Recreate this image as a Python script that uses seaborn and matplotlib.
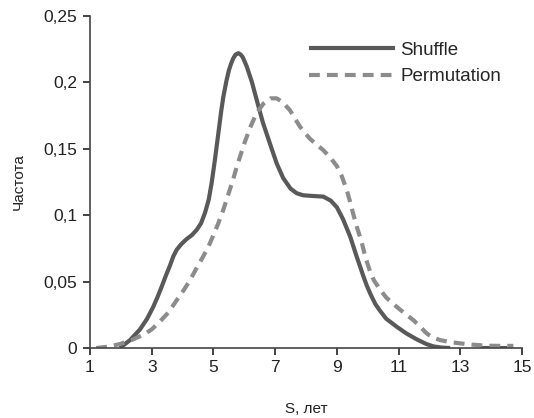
import numpy as np
import pandas as pd
import seaborn as sns
import matplotlib.pyplot as plt

# Values
shuffle_x = [1.97, 2.3, 2.62, 2.85, 3.05, 3.2, 3.32, 3.45, 3.59, 3.7, 3.81, 3.95, 4.13, 4.3, 4.46,
             4.6, 4.73, 4.85, 4.94, 5.05, 5.15, 5.25, 5.32, 5.42, 5.5, 5.57, 5.64, 5.72, 5.81,
             5.88, 5.95, 6.08, 6.25, 6.4, 6.6, 6.83, 7.05, 7.26, 7.5, 7.7, 7.91, 8.2, 8.56,
             8.8, 9.0, 9.2, 9.43, 9.64, 9.86, 9.97, 10.1, 10.25, 10.4, 10.6, 10.94, 11.25,
             11.59, 11.9, 12.13, 12.4, 12.67, 13.1, 13.64, 14.5]
shuffle_y = [0.0, 0.006, 0.014, 0.022, 0.031, 0.039, 0.046, 0.054, 0.062, 0.069, 0.074, 0.078,
             0.082, 0.085, 0.089, 0.094, 0.102, 0.112, 0.124, 0.142, 0.160, 0.178, 0.189,
             0.201, 0.209, 0.214, 0.218, 0.221, 0.222, 0.221, 0.219, 0.212, 0.200, 0.187,
             0.170, 0.154, 0.139, 0.128, 0.120, 0.1165, 0.115, 0.1145, 0.114, 0.111, 0.106,
             0.097, 0.084, 0.069, 0.054, 0.047, 0.040, 0.033, 0.028, 0.022, 0.016, 0.011,
             0.0065, 0.003, 0.0012, 0.0003, 0.0, np.nan, 0.0, 0.0]

perm_x = [1.2, 1.6, 1.97, 2.35, 2.73, 3.0, 3.27, 3.55, 3.81, 4.05, 4.24, 4.45, 4.67, 4.85, 5.0,
          5.16, 5.32, 5.5, 5.64, 5.75, 6.0, 6.19, 6.4, 6.62, 6.85, 7.05, 7.25, 7.48, 7.65, 7.81,
          8.0, 8.13, 8.35, 8.56, 8.8, 9.0, 9.15, 9.32, 9.43, 9.53, 9.65, 9.8, 9.93, 10.07,
          10.2, 10.4, 10.6, 10.94, 11.2, 11.48, 11.7, 11.91, 12.1, 12.34, 12.65, 12.99, 13.4,
          13.86, 14.3, 14.72]
perm_y = [0.0, 0.001, 0.003, 0.006, 0.010, 0.014, 0.020, 0.027, 0.036, 0.044, 0.051, 0.060,
          0.069, 0.077, 0.085, 0.094, 0.104, 0.117, 0.127, 0.136, 0.154, 0.166, 0.177, 0.184,
          0.188, 0.188, 0.185, 0.179, 0.1725, 0.1665, 0.161, 0.1575, 0.153, 0.149, 0.143,
          0.137, 0.130, 0.119, 0.110, 0.101, 0.091, 0.080, 0.068, 0.058, 0.051, 0.044, 0.038,
          0.031, 0.026, 0.021, 0.016, 0.011, 0.008, 0.006, 0.0045, 0.0035, 0.0025, 0.0017,
          0.0016, 0.0016]

x_ticks = [1, 3, 5, 7, 9, 11, 13, 15]
y_ticks = [0, 0.05, 0.1, 0.15, 0.2, 0.25]
y_tick_labels = ["0", "0,05", "0,1", "0,15", "0,2", "0,25"]

sns.set_style("ticks")
plt.rcParams['font.family'] = ['Liberation Sans', 'DejaVu Sans']

fig = plt.figure(figsize=(5.34, 4.18), dpi=100)
ax = fig.add_axes([90 / 534, 1 - 348 / 418, 432 / 534, 332 / 418])

shuffle = pd.DataFrame({'x': shuffle_x, 'y': shuffle_y})
perm = pd.DataFrame({'x': perm_x, 'y': perm_y})

# split Shuffle at the gap so the two pieces are drawn separately
gap = shuffle['y'].isna().idxmax()
sns.lineplot(data=shuffle.iloc[:gap], x='x', y='y', ax=ax, color='#595959', lw=3,
             label='Shuffle', sort=False, solid_capstyle='butt', solid_joinstyle='round')
sns.lineplot(data=shuffle.iloc[gap + 1:], x='x', y='y', ax=ax, color='#595959', lw=3,
             sort=False, solid_capstyle='butt')
sns.lineplot(data=perm, x='x', y='y', ax=ax, color='#8c8c8c', lw=3, label='Permutation',
             sort=False, dashes=False)
ax.lines[-1].set_dashes((2.6, 1.7))

ax.set_xlim(1, 15)
ax.set_ylim(0, 0.25)
ax.set_xticks(x_ticks)
ax.set_yticks(y_ticks)
ax.set_yticklabels(y_tick_labels)
ax.tick_params(labelsize=12.5, colors='#222222', length=5, width=1.2, pad=4)
for s in ['left', 'bottom']:
    ax.spines[s].set_color('#444444')
    ax.spines[s].set_linewidth(1.2)
sns.despine(ax=ax)

ax.set_xlabel('S, лет', fontsize=11, color='#222222', labelpad=19)
ax.set_ylabel('Частота', fontsize=11, color='#222222', labelpad=13)

ax.legend(loc='upper left', bbox_to_anchor=(301 / 534, 1 - 34 / 418),
          bbox_transform=fig.transFigure, frameon=False, fontsize=13.5,
          handlelength=4.6, handletextpad=0.3, labelspacing=0.5, borderaxespad=0)

fig.savefig('out.png', dpi=100)
